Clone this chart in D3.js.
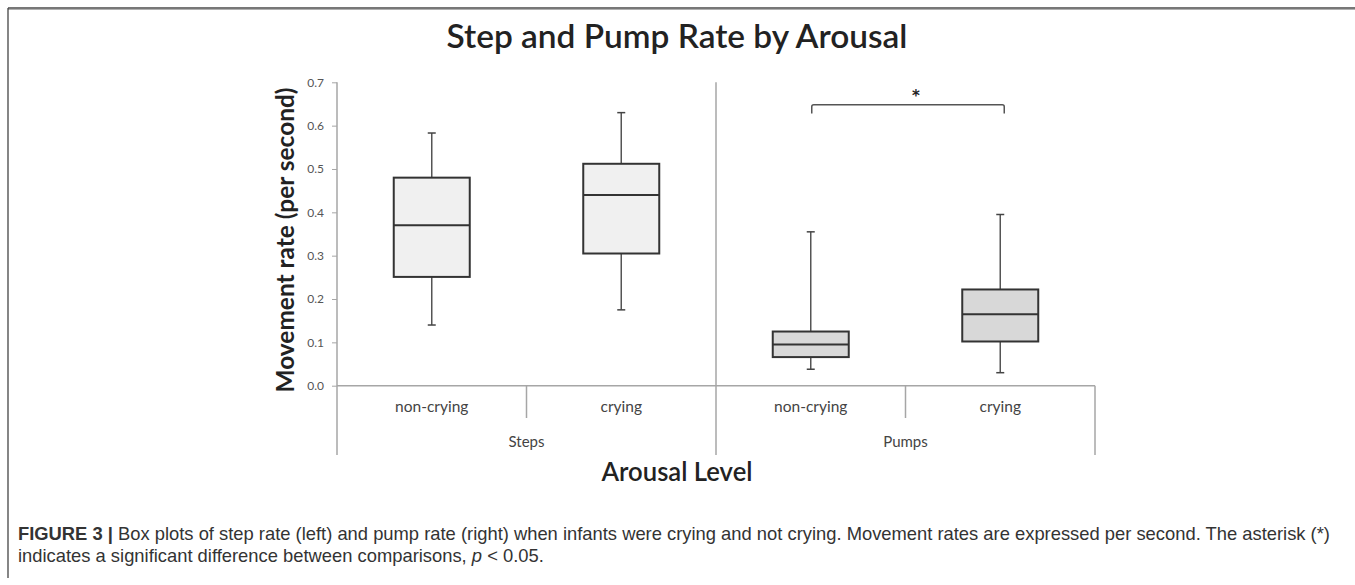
<!DOCTYPE html>
<html>
<head>
<meta charset="utf-8">
<script src="https://cdn.jsdelivr.net/npm/d3@7"></script>
<style>
  html, body { margin: 0; padding: 0; background: #fff; }
  svg { display: block; }
</style>
</head>
<body>
<svg id="chart" width="1355" height="585"></svg>
<script>
// ---- data ----
const groups = ["Steps", "Pumps"];
const categories = ["non-crying", "crying", "non-crying", "crying"];
const categoryGroup = ["Steps", "Steps", "Pumps", "Pumps"];
const whiskerLow  = [0.140, 0.175, 0.038, 0.030];
const q1          = [0.251, 0.305, 0.066, 0.102];
const median      = [0.370, 0.440, 0.095, 0.165];
const q3          = [0.480, 0.512, 0.125, 0.222];
const whiskerHigh = [0.583, 0.630, 0.355, 0.395];
const yTicks = [0, 0.1, 0.2, 0.3, 0.4, 0.5, 0.6, 0.7];
const significance = [{ from: 2, to: 3, label: "*" }];

const title = "Step and Pump Rate by Arousal";
const yTitle = "Movement rate (per second)";
const xTitle = "Arousal Level";

(function () {
// ---- layout ----
const svg = d3.select("#chart");
const pLeft = 337, pRight = 1095, pTop = 82.3, pBottom = 385.7, outerBottom = 455, innerBottom = 418;
const ids = categories.map((c, i) => i);
const x = d3.scaleBand().domain(ids).range([pLeft, pRight]).padding(0);
const y = d3.scaleLinear().domain([0, 0.7]).range([pBottom, pTop]);
const boxW = 76, capW = 8;
const fills = { Steps: "#f0f0f0", Pumps: "#d8d8d8" };
const axisColor = "#a6a6a6";

function fit(sel, target) {
  const node = sel.node();
  let fs = parseFloat(sel.attr("font-size"));
  for (let k = 0; k < 4; k++) {
    const w = node.getComputedTextLength();
    if (!w) break;
    fs = fs * target / w;
    sel.attr("font-size", fs);
  }
}
// keep the font size, squeeze horizontally to a target width
function squeeze(sel, cx, cy, target, rot) {
  const w = sel.node().getComputedTextLength();
  const s = w ? target / w : 1;
  sel.attr("x", 0).attr("y", 0)
    .attr("transform", `translate(${cx},${cy})${rot ? ` rotate(${rot})` : ""} scale(${s},1)`);
}

// frame
svg.append("line").attr("x1", 8).attr("x2", 1355).attr("y1", 8).attr("y2", 8)
  .attr("stroke", "#4a4a4a").attr("stroke-width", 1.5);
svg.append("line").attr("x1", 8).attr("x2", 1355).attr("y1", 9.5).attr("y2", 9.5)
  .attr("stroke", "#b0b0b0").attr("stroke-width", 1);
svg.append("line").attr("x1", 8).attr("x2", 8).attr("y1", 8).attr("y2", 578)
  .attr("stroke", "#444").attr("stroke-width", 1.3);

// title
const t = svg.append("text").attr("text-anchor", "middle")
  .attr("font-family", "Lato").attr("font-weight", 600).attr("font-size", 32).attr("fill", "#222").text(title);
squeeze(t, 677, 48, 461);

// y axis
const yAxis = d3.axisLeft(y).tickValues(yTicks).tickFormat(d3.format(".1f")).tickSize(5).tickPadding(8);
const ga = svg.append("g").attr("transform", `translate(${pLeft},0)`).call(yAxis);
ga.select(".domain").remove();
ga.selectAll(".tick line").attr("stroke", axisColor).attr("stroke-width", 1);
ga.selectAll(".tick text").attr("font-family", "Lato").attr("font-size", 12).attr("fill", "#555");

// axis lines
svg.append("line").attr("x1", pLeft).attr("x2", pLeft).attr("y1", pTop).attr("y2", outerBottom)
  .attr("stroke", axisColor).attr("stroke-width", 1.5);
svg.append("line").attr("x1", pLeft).attr("x2", pRight).attr("y1", pBottom).attr("y2", pBottom)
  .attr("stroke", axisColor).attr("stroke-width", 1.5);
// group boundaries
groups.forEach((g, gi) => {
  const idx = ids.filter(i => categoryGroup[i] === g);
  const gx0 = x(idx[0]), gx1 = x(idx[idx.length - 1]) + x.bandwidth();
  const isLast = gi === groups.length - 1;
  svg.append("line").attr("x1", gx1).attr("x2", gx1)
    .attr("y1", isLast ? pBottom : pTop).attr("y2", outerBottom)
    .attr("stroke", axisColor).attr("stroke-width", 1.5);
  idx.slice(1).forEach(i => {
    svg.append("line").attr("x1", x(i)).attr("x2", x(i)).attr("y1", pBottom).attr("y2", innerBottom)
      .attr("stroke", axisColor).attr("stroke-width", 1.5);
  });
  svg.append("text").attr("x", (gx0 + gx1) / 2).attr("y", 447).attr("text-anchor", "middle")
    .attr("font-family", "Lato").attr("font-size", 15).attr("fill", "#444").text(g);
});

// category labels
ids.forEach(i => {
  svg.append("text").attr("x", x(i) + x.bandwidth() / 2).attr("y", 412)
    .attr("text-anchor", "middle").attr("font-family", "Lato").attr("font-size", 15.5)
    .attr("fill", "#444").text(categories[i]);
});

// boxes
ids.forEach(i => {
  const cx = x(i) + x.bandwidth() / 2;
  const g = svg.append("g");
  g.append("line").attr("x1", cx).attr("x2", cx).attr("y1", y(q3[i])).attr("y2", y(whiskerHigh[i]))
    .attr("stroke", "#555").attr("stroke-width", 1.5);
  g.append("line").attr("x1", cx).attr("x2", cx).attr("y1", y(q1[i])).attr("y2", y(whiskerLow[i]))
    .attr("stroke", "#555").attr("stroke-width", 1.5);
  [whiskerHigh[i], whiskerLow[i]].forEach(v => {
    g.append("line").attr("x1", cx - capW / 2).attr("x2", cx + capW / 2).attr("y1", y(v)).attr("y2", y(v))
      .attr("stroke", "#444").attr("stroke-width", 1.5);
  });
  g.append("rect").attr("x", cx - boxW / 2).attr("width", boxW)
    .attr("y", y(q3[i])).attr("height", y(q1[i]) - y(q3[i]))
    .attr("fill", fills[categoryGroup[i]]).attr("stroke", "#333").attr("stroke-width", 2);
  g.append("line").attr("x1", cx - boxW / 2).attr("x2", cx + boxW / 2).attr("y1", y(median[i])).attr("y2", y(median[i]))
    .attr("stroke", "#333").attr("stroke-width", 2);
});

// significance bracket
significance.forEach(s => {
  const xa = x(s.from) + x.bandwidth() / 2 + 1, xb = x(s.to) + x.bandwidth() / 2 + 4;
  const yb = 104.7, yd = 113.5, r = 2;
  const p = d3.path();
  p.moveTo(xa, yd); p.lineTo(xa, yb + r); p.quadraticCurveTo(xa, yb, xa + r, yb);
  p.lineTo(xb - r, yb); p.quadraticCurveTo(xb, yb, xb, yb + r); p.lineTo(xb, yd);
  svg.append("path").attr("d", p.toString()).attr("fill", "none").attr("stroke", "#555").attr("stroke-width", 1.5);
  svg.append("text").attr("x", (xa + xb) / 2 + 8).attr("y", 101).attr("text-anchor", "middle")
    .attr("font-family", "DejaVu Sans").attr("font-weight", "bold").attr("font-size", 15).attr("fill", "#222").text(s.label);
});

// y title
const yt = svg.append("text").attr("transform", "translate(294,240) rotate(-90)")
  .attr("text-anchor", "middle").attr("font-family", "Lato").attr("font-weight", "bold")
  .attr("font-size", 21).attr("fill", "#222").text(yTitle);
fit(yt, 305);

// x title
const xt = svg.append("text").attr("text-anchor", "middle")
  .attr("font-family", "Lato").attr("font-weight", 600).attr("font-size", 26).attr("fill", "#222").text(xTitle);
squeeze(xt, 677, 481, 151);

// caption
const c1 = svg.append("text").attr("x", 18).attr("y", 540).attr("font-family", "Liberation Sans")
  .attr("font-size", 16).attr("fill", "#333");
c1.append("tspan").attr("font-weight", "bold").text("FIGURE 3 | ");
c1.append("tspan").text("Box plots of step rate (left) and pump rate (right) when infants were crying and not crying. Movement rates are expressed per second. The asterisk (*)");
fit(c1, 1312);
const fs1 = parseFloat(c1.attr("font-size"));
const c2 = svg.append("text").attr("x", 18).attr("y", 562).attr("font-family", "Liberation Sans")
  .attr("font-size", fs1).attr("fill", "#333");
c2.append("tspan").text("indicates a significant difference between comparisons, ");
c2.append("tspan").attr("font-style", "italic").text("p");
c2.append("tspan").text(" < 0.05.");
})();
</script>
</body>
</html>
